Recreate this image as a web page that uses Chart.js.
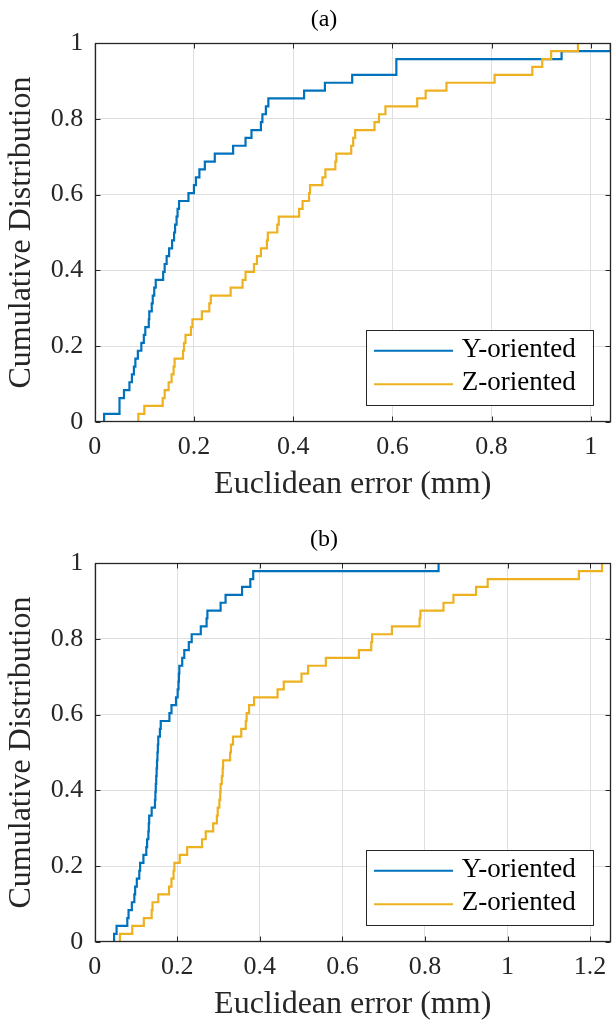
<!DOCTYPE html>
<html><head><meta charset="utf-8">
<script src="https://cdn.jsdelivr.net/npm/chart.js@4"></script>
<style>
html,body{margin:0;padding:0;background:#fff;}
canvas{display:block;}
#wa{position:absolute;left:0;top:0;width:613px;height:520px}
#wb{position:absolute;left:0;top:520px;width:613px;height:501px}
</style></head><body>
<div id="wa"><canvas id="ca" width="613" height="520"></canvas></div>
<div id="wb"><canvas id="cb" width="613" height="501"></canvas></div>
<script>
// ---------- data ----------
const panelTitles = ['(a)', '(b)'];
const seriesNames = ['Y-oriented', 'Z-oriented'];
const xAxisTitle = 'Euclidean error (mm)';
const yAxisTitle = 'Cumulative Distribution';

const xMaxA = 1.04;
const xMaxB = 1.25;
const xTicksA = [0, 0.2, 0.4, 0.6, 0.8, 1];
const xTickLabelsA = ['0', '0.2', '0.4', '0.6', '0.8', '1'];
const xTicksB = [0, 0.2, 0.4, 0.6, 0.8, 1, 1.2];
const xTickLabelsB = ['0', '0.2', '0.4', '0.6', '0.8', '1', '1.2'];
const yTicks = [0, 0.2, 0.4, 0.6, 0.8, 1];
const yTickLabels = ['0', '0.2', '0.4', '0.6', '0.8', '1'];

// panel (a), Y-oriented: error (mm) and cumulative fraction
const errA_Y = [0.019, 0.019, 0.050, 0.059, 0.070, 0.075, 0.079, 0.082, 0.087, 0.094, 0.099, 0.102, 0.109, 0.110, 0.115, 0.117, 0.120, 0.123, 0.138, 0.141, 0.145, 0.150, 0.156, 0.160, 0.162, 0.165, 0.167, 0.170, 0.189, 0.200, 0.204, 0.211, 0.222, 0.242, 0.279, 0.304, 0.316, 0.335, 0.338, 0.345, 0.350, 0.422, 0.464, 0.519, 0.608, 0.941, 1.040];
const cdfA_Y = [0, 0.0208, 0.0625, 0.0833, 0.1042, 0.125, 0.1458, 0.1667, 0.1875, 0.2083, 0.2292, 0.25, 0.2708, 0.2917, 0.3125, 0.3333, 0.3542, 0.375, 0.3958, 0.4167, 0.4375, 0.4583, 0.4792, 0.5, 0.5208, 0.5417, 0.5625, 0.5833, 0.6042, 0.625, 0.6458, 0.6667, 0.6875, 0.7083, 0.7292, 0.75, 0.7708, 0.7917, 0.8125, 0.8333, 0.8542, 0.875, 0.8958, 0.9167, 0.9583, 0.9792, 1];

// panel (a), Z-oriented
const errA_Z = [0.088, 0.088, 0.100, 0.137, 0.141, 0.149, 0.155, 0.159, 0.161, 0.178, 0.180, 0.183, 0.194, 0.197, 0.216, 0.231, 0.234, 0.274, 0.298, 0.304, 0.321, 0.327, 0.335, 0.347, 0.349, 0.368, 0.371, 0.412, 0.419, 0.432, 0.434, 0.459, 0.465, 0.485, 0.487, 0.517, 0.521, 0.525, 0.564, 0.573, 0.586, 0.650, 0.667, 0.709, 0.806, 0.882, 0.902, 0.920, 0.974];
const cdfA_Z = [0, 0.0208, 0.0417, 0.0625, 0.0833, 0.1042, 0.125, 0.1458, 0.1667, 0.1875, 0.2083, 0.2292, 0.25, 0.2708, 0.2917, 0.3125, 0.3333, 0.3542, 0.375, 0.3958, 0.4167, 0.4375, 0.4583, 0.4792, 0.5, 0.5208, 0.5417, 0.5625, 0.5833, 0.6042, 0.625, 0.6458, 0.6667, 0.6875, 0.7083, 0.7292, 0.75, 0.7708, 0.7917, 0.8125, 0.8333, 0.8542, 0.875, 0.8958, 0.9167, 0.9375, 0.9583, 0.9792, 1];

// panel (b), Y-oriented
const errB_Y = [0.047, 0.047, 0.053, 0.079, 0.082, 0.090, 0.096, 0.098, 0.102, 0.108, 0.110, 0.118, 0.125, 0.127, 0.130, 0.131, 0.132, 0.138, 0.146, 0.147, 0.148, 0.149, 0.150, 0.151, 0.152, 0.153, 0.154, 0.158, 0.160, 0.181, 0.186, 0.197, 0.201, 0.203, 0.204, 0.205, 0.212, 0.217, 0.228, 0.235, 0.257, 0.271, 0.273, 0.305, 0.317, 0.357, 0.377, 0.384, 0.833];
const cdfB_Y = [0, 0.0208, 0.0417, 0.0625, 0.0833, 0.1042, 0.125, 0.1458, 0.1667, 0.1875, 0.2083, 0.2292, 0.25, 0.2708, 0.2917, 0.3125, 0.3333, 0.3542, 0.375, 0.3958, 0.4167, 0.4375, 0.4583, 0.4792, 0.5, 0.5208, 0.5417, 0.5625, 0.5833, 0.6042, 0.625, 0.6458, 0.6667, 0.6875, 0.7083, 0.7292, 0.75, 0.7708, 0.7917, 0.8125, 0.8333, 0.8542, 0.875, 0.8958, 0.9167, 0.9375, 0.9583, 0.9792, 1];

// panel (b), Z-oriented
const errB_Z = [0.061, 0.061, 0.091, 0.119, 0.138, 0.140, 0.154, 0.180, 0.186, 0.191, 0.193, 0.206, 0.224, 0.260, 0.269, 0.287, 0.296, 0.298, 0.302, 0.304, 0.305, 0.308, 0.310, 0.311, 0.328, 0.330, 0.335, 0.355, 0.366, 0.368, 0.374, 0.386, 0.443, 0.458, 0.501, 0.517, 0.560, 0.640, 0.670, 0.672, 0.720, 0.787, 0.789, 0.845, 0.869, 0.924, 0.952, 1.173, 1.229];
const cdfB_Z = [0, 0.0208, 0.0417, 0.0625, 0.0833, 0.1042, 0.125, 0.1458, 0.1667, 0.1875, 0.2083, 0.2292, 0.25, 0.2708, 0.2917, 0.3125, 0.3333, 0.3542, 0.375, 0.3958, 0.4167, 0.4375, 0.4583, 0.4792, 0.5, 0.5208, 0.5417, 0.5625, 0.5833, 0.6042, 0.625, 0.6458, 0.6667, 0.6875, 0.7083, 0.7292, 0.75, 0.7708, 0.7917, 0.8125, 0.8333, 0.8542, 0.875, 0.8958, 0.9167, 0.9375, 0.9583, 0.9792, 1];

// ---------- styling ----------
const FONT = "'Liberation Serif', 'DejaVu Serif', serif";
const COLORS = ['#0072BD', '#EDB120'];
const AXIS = '#262626';

const pts = (xs, ys) => xs.map((x, i) => ({x: x, y: ys[i]}));

const framePlugin = {
  id: 'matlabFrame',
  afterDatasetsDraw(chart) {
    const {ctx, chartArea: a, scales: {x, y}} = chart;
    const L = Math.round(a.left) + 0.5, R = Math.round(a.right) - 0.5;
    const T = Math.round(a.top) + 0.5, B = Math.round(a.bottom) - 0.5;
    ctx.save();
    ctx.strokeStyle = AXIS;
    ctx.lineWidth = 1;
    ctx.beginPath();
    x.ticks.forEach(t => {
      const p = Math.round(x.getPixelForValue(t.value)) + 0.5;
      ctx.moveTo(p, B); ctx.lineTo(p, B - 5);
      ctx.moveTo(p, T); ctx.lineTo(p, T + 5);
    });
    y.ticks.forEach(t => {
      const p = Math.round(y.getPixelForValue(t.value)) + 0.5;
      ctx.moveTo(L, p); ctx.lineTo(L + 5, p);
      ctx.moveTo(R, p); ctx.lineTo(R - 5, p);
    });
    ctx.stroke();
    ctx.lineWidth = 1.3;
    ctx.strokeRect(L, T, R - L, B - T);
    ctx.restore();
  },
  afterDraw(chart) {
    const {ctx, chartArea: a} = chart;
    const o = chart.options.plugins.matlabFrame || {};
    ctx.save();
    // panel title
    ctx.fillStyle = '#000';
    ctx.font = '24px ' + FONT;
    ctx.textAlign = 'center';
    ctx.textBaseline = 'middle';
    ctx.fillText(o.title, 324, 19.5);
    // legend box
    const bx2 = a.right - 18.4, by2 = a.bottom - 16.7;
    const bx1 = bx2 - 226.6, by1 = by2 - 75;
    ctx.fillStyle = '#fff';
    ctx.fillRect(bx1, by1, bx2 - bx1, by2 - by1);
    ctx.strokeStyle = AXIS;
    ctx.lineWidth = 1;
    ctx.strokeRect(Math.round(bx1) + 0.5, Math.round(by1) + 0.5, Math.round(bx2 - bx1), Math.round(by2 - by1));
    chart.data.datasets.forEach((ds, i) => {
      const ly = by1 + 20.7 + i * 33.6;
      ctx.strokeStyle = ds.borderColor;
      ctx.lineWidth = 2;
      ctx.beginPath();
      ctx.moveTo(bx1 + 8.3, ly); ctx.lineTo(bx1 + 87.3, ly);
      ctx.stroke();
      ctx.fillStyle = '#000';
      ctx.font = '27px ' + FONT;
      ctx.textAlign = 'left';
      ctx.textBaseline = 'middle';
      ctx.fillText(ds.label, bx1 + 96, ly - 1);
    });
    ctx.restore();
  }
};

function makePanel(canvasId, title, xMax, xTicks, xTickLabels, seriesY, seriesZ, bottomPad) {
  const tickFont = {family: FONT, size: 26, lineHeight: 1};
  const titleFont = {family: FONT, size: 32, lineHeight: 1};
  return new Chart(document.getElementById(canvasId), {
    type: 'line',
    data: {
      datasets: [
        {label: seriesNames[0], data: seriesY, borderColor: COLORS[0], backgroundColor: COLORS[0],
         borderWidth: 2.2, pointRadius: 0, stepped: 'before', fill: false, order: 1},
        {label: seriesNames[1], data: seriesZ, borderColor: COLORS[1], backgroundColor: COLORS[1],
         borderWidth: 2.2, pointRadius: 0, stepped: 'before', fill: false, order: 0}
      ]
    },
    options: {
      responsive: false,
      animation: false,
      devicePixelRatio: 1,
      layout: {padding: {left: 0, right: 2.3, top: 43.3, bottom: bottomPad}},
      plugins: {
        legend: {display: false},
        tooltip: {enabled: false},
        matlabFrame: {title: title}
      },
      scales: {
        x: {
          type: 'linear', min: 0, max: xMax,
          afterBuildTicks: s => { s.ticks = xTicks.map(v => ({value: v})); },
          afterFit: s => { s.height = 78.5; s.paddingLeft = 0; s.paddingRight = 0; },
          ticks: {
            callback: (v) => xTickLabels[xTicks.indexOf(v)],
            color: AXIS, font: tickFont, padding: 12.8, maxRotation: 0, autoSkip: false
          },
          grid: {color: '#dfdfdf', lineWidth: 1, drawTicks: false},
          border: {display: false},
          title: {display: true, text: xAxisTitle, color: AXIS, font: titleFont, padding: {top: 0, bottom: 0}}
        },
        y: {
          type: 'linear', min: 0, max: 1,
          afterBuildTicks: s => { s.ticks = yTicks.map(v => ({value: v})); },
          afterFit: s => { s.width = 94.7; s.paddingTop = 0; s.paddingBottom = 0; },
          ticks: {
            callback: (v) => yTickLabels[yTicks.indexOf(v)],
            color: AXIS, font: tickFont, padding: 11.4, autoSkip: false
          },
          grid: {color: '#dfdfdf', lineWidth: 1, drawTicks: false},
          border: {display: false},
          title: {display: true, text: yAxisTitle, color: AXIS, font: titleFont, padding: {top: 6, bottom: 0}}
        }
      }
    },
    plugins: [framePlugin]
  });
}

makePanel('ca', panelTitles[0], xMaxA, xTicksA, xTickLabelsA, pts(errA_Y, cdfA_Y), pts(errA_Z, cdfA_Z), 19.8);
makePanel('cb', panelTitles[1], xMaxB, xTicksB, xTickLabelsB, pts(errB_Y, cdfB_Y), pts(errB_Z, cdfB_Z), 0.8);
</script>
</body></html>
